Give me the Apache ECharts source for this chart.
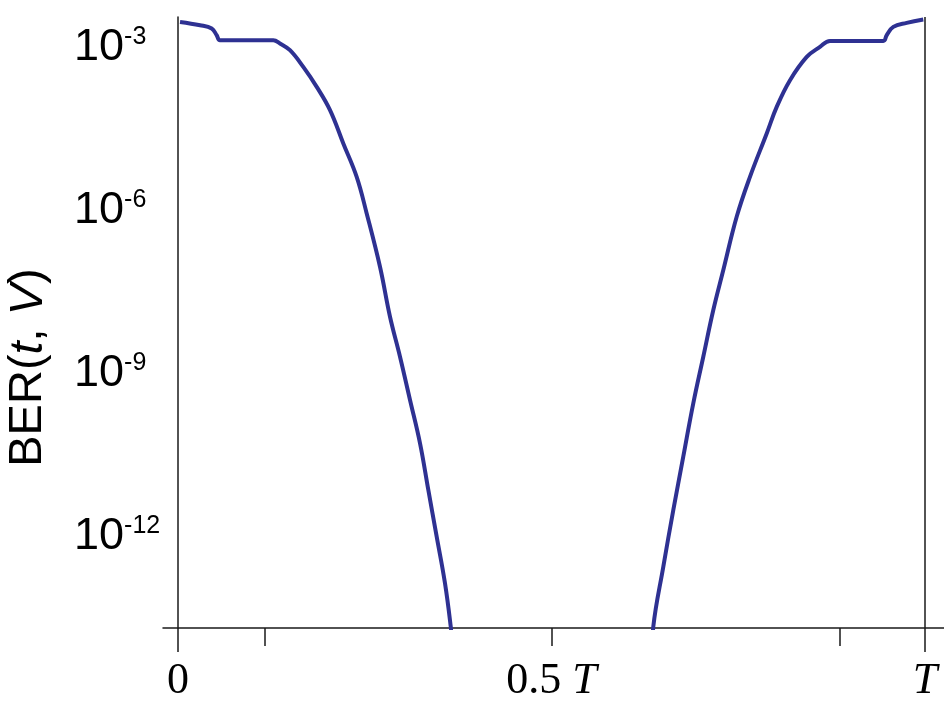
<!DOCTYPE html>
<html>
<head>
<meta charset="utf-8">
<script src="https://cdn.jsdelivr.net/npm/echarts@6/dist/echarts.min.js"></script>
<style>html,body{margin:0;padding:0;background:#fff;}#c{width:944px;height:704px;}</style>
</head>
<body>
<div id="c"></div>
<script>
// time as fraction of bit period T
var leftT = [0.0027, 0.0295, 0.0451, 0.0518, 0.0562, 0.1276, 0.1365, 0.1499, 0.1677, 0.1857, 0.2035, 0.2213, 0.2392, 0.2526, 0.2704, 0.2838, 0.2972, 0.3106, 0.3240, 0.3351, 0.3463, 0.3574, 0.3651, 0.3665];
// log10(BER)
var leftLogBER = [-2.59, -2.651, -2.712, -2.835, -2.927, -2.927, -2.987, -3.11, -3.417, -3.784, -4.212, -4.824, -5.438, -6.11, -7.091, -8.009, -8.744, -9.539, -10.335, -11.193, -12.05, -12.906, -13.703, -13.95];
var rightT = [0.6355, 0.6363, 0.6497, 0.6631, 0.6764, 0.6898, 0.7032, 0.7166, 0.7300, 0.7479, 0.7657, 0.7881, 0.8015, 0.8193, 0.8417, 0.8594, 0.8728, 0.9442, 0.9487, 0.9576, 0.9755, 0.9977];
var rightLogBER = [-13.95, -13.703, -12.601, -11.56, -10.581, -9.6, -8.744, -7.886, -7.151, -6.172, -5.438, -4.64, -4.152, -3.661, -3.233, -3.05, -2.939, -2.939, -2.835, -2.682, -2.609, -2.546];
var yTickExponents = [-3, -6, -9, -12];
var xLabelValues = [0, 0.5, 1];
var xLabelTexts = ['0', '{n|0.5 }{i|T}', '{i|T}'];
var xLongTicks = [0, 1];
var xShortTicks = [0.1165, 0.5, 0.886];

var data = [];
for (var i = 0; i < leftT.length; i++) data.push([leftT[i], leftLogBER[i]]);
data.push([0.5, null]);
for (var j = 0; j < rightT.length; j++) data.push([rightT[j], rightLogBER[j]]);

var chart = echarts.init(document.getElementById('c'));
var axisCol = '#1a1a1a';
chart.setOption({
  animation: false,
  backgroundColor: '#ffffff',
  grid: { left: 163, right: 0, top: 17, bottom: 76, containLabel: false, outerBoundsMode: 'none' },
  xAxis: [{
    type: 'value', min: -0.02008, max: 1.02544,
    splitLine: { show: false },
    axisLine: { show: true, onZero: false, lineStyle: { color: axisCol, width: 1.5 } },
    axisTick: { show: true, customValues: xLongTicks, length: 24, lineStyle: { color: axisCol, width: 1.5 } },
    axisLabel: {
      show: true, customValues: xLabelValues, margin: 31,
      formatter: function (v) {
        for (var k = 0; k < xLabelValues.length; k++) if (Math.abs(v - xLabelValues[k]) < 1e-9) return xLabelTexts[k];
        return '';
      },
      color: '#000', fontFamily: 'Liberation Serif', fontSize: 44,
      rich: {
        n: { fontFamily: 'Liberation Serif', fontSize: 44, color: '#000' },
        i: { fontFamily: 'Liberation Serif', fontStyle: 'italic', fontSize: 44, color: '#000' }
      }
    }
  }, {
    type: 'value', min: -0.02008, max: 1.02544, position: 'bottom',
    splitLine: { show: false },
    axisLine: { show: false, onZero: false },
    axisTick: { show: true, customValues: xShortTicks, length: 18, lineStyle: { color: axisCol, width: 1.5 } },
    axisLabel: { show: false }
  }],
  yAxis: {
    type: 'value', min: -13.73, max: -2.5,
    splitLine: { show: false },
    axisLine: { show: true, onZero: true, lineStyle: { color: axisCol, width: 1.5 } },
    axisTick: { show: false },
    axisLabel: {
      show: true, customValues: yTickExponents, align: 'left', margin: 89,
      padding: [6, 0, 0, 0],
      formatter: function (v) { return '{a|10}{b|' + v + '}'; },
      rich: {
        a: { fontFamily: 'Liberation Sans', fontSize: 45, color: '#000' },
        b: { fontFamily: 'Liberation Sans', fontSize: 25, color: '#000', padding: [0, 0, 21, 0] }
      }
    },
    name: '{n|BER(}{i|t}{n|, }{i|V}{n|)}',
    nameLocation: 'middle',
    nameGap: 111,
    nameTextStyle: {
      padding: [0, 90, 0, 0],
      rich: {
        n: { fontFamily: 'Liberation Sans', fontSize: 47, color: '#000' },
        i: { fontFamily: 'Liberation Sans', fontStyle: 'italic', fontSize: 47, color: '#000' }
      }
    }
  },
  series: [{
    type: 'line',
    data: data,
    showSymbol: false,
    connectNulls: false,
    clip: true,
    smooth: 0.4,
    lineStyle: { color: '#2e3192', width: 4 },
    markLine: {
      silent: true, symbol: 'none', label: { show: false },
      lineStyle: { color: axisCol, width: 1.5, type: 'solid' },
      data: [{ xAxis: 1 }]
    }
  }]
});
</script>
</body>
</html>
